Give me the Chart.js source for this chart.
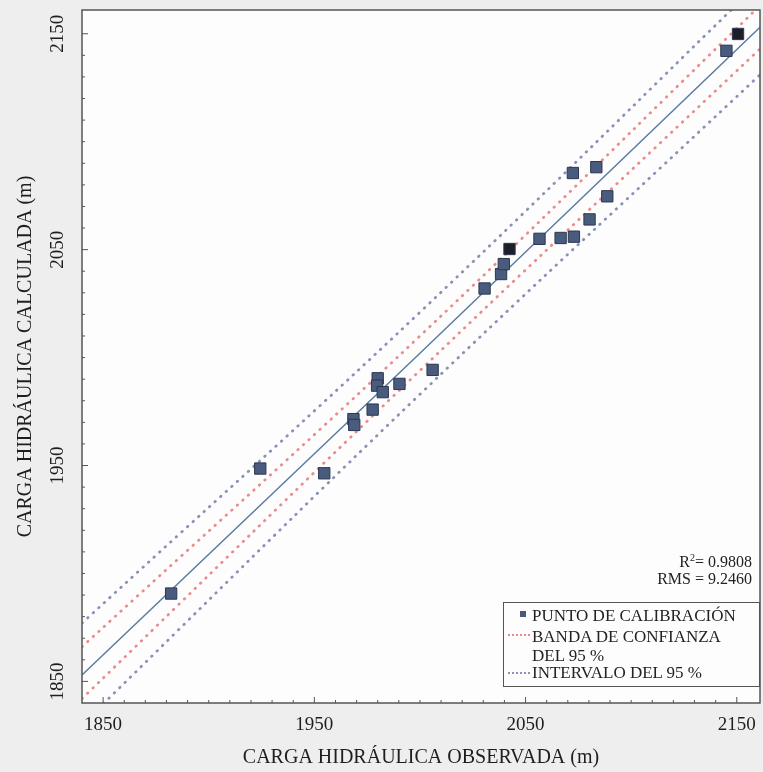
<!DOCTYPE html>
<html>
<head>
<meta charset="utf-8">
<script src="https://cdn.jsdelivr.net/npm/chart.js@4.4.1/dist/chart.umd.min.js"></script>
<style>
html, body { margin: 0; padding: 0; background: #eeeeee; }
#wrap { position: relative; width: 763px; height: 772px; }
#legend { position: absolute; left: 503px; top: 602px; width: 257px; height: 85px; border: 1px solid #555; background: #fdfdfd; box-sizing: border-box; font-family: "Liberation Serif", serif; font-size: 17px; color: #222; }
#legend .row { position: absolute; left: 28px; line-height: 17px; white-space: nowrap; }
#legend .sym { position: absolute; }
.stat { position: absolute; right: 11px; font-family: "Liberation Serif", serif; font-size: 16px; color: #222; white-space: nowrap; line-height: 18px; }
</style>
</head>
<body>
<div id="wrap">
  <canvas id="chart" width="763" height="772"></canvas>
  <div class="stat" style="top:549px">R<sup style="font-size:10px">2</sup>= 0.9808</div>
  <div class="stat" style="top:570px">RMS = 9.2460</div>
  <div id="legend">
    <div class="sym" style="left:16px; top:8px; width:6px; height:6px; background:#4a5a78;"></div>
    <div class="sym" style="left:4px; top:31px; width:22px; border-top:2px dotted #e88a8a;"></div>
    <div class="sym" style="left:4px; top:69px; width:22px; border-top:2px dotted #8c92bb;"></div>
    <div class="row" style="top:4px">PUNTO DE CALIBRACIÓN</div>
    <div class="row" style="top:25px">BANDA DE CONFIANZA</div>
    <div class="row" style="top:44px">DEL 95 %</div>
    <div class="row" style="top:61px">INTERVALO DEL 95 %</div>
  </div>
</div>
<script>
// puntos de calibracion (observada, calculada)
const obsX = [1882.2, 1924.4, 1954.7, 1968.5, 1968.9, 1977.6, 1980.0, 1979.7, 1982.4, 1990.3, 2006.0,
              2030.6, 2038.4, 2039.7, 2042.4, 2056.6, 2066.6, 2072.9, 2080.3, 2072.4, 2083.5, 2088.7,
              2145.1, 2150.6];
const calcY = [1890.7, 1948.6, 1946.4, 1971.5, 1968.8, 1975.9, 1990.4, 1987.0, 1984.0, 1987.8, 1994.3,
               2032.0, 2038.7, 2043.3, 2050.3, 2055.0, 2055.4, 2056.0, 2064.0, 2085.5, 2088.2, 2074.7,
               2142.1, 2149.9];
const darkIdx = [14, 23]; // los dos cuadros negros

// recta de ajuste y bandas
const lineX = [1840, 2000, 2161];
const fitY = [1853, 2002, 2153];
const bandHi = [1866, 2010, 2163];
const bandLo = [1842, 1994, 2143];
const predHi = [1877, 2021, 2174];
const predLo = [1830, 1983, 2131];

const xTicks = [1850, 1950, 2050, 2150];
const yTicks = [1850, 1950, 2050, 2150];
const xTitle = 'CARGA HIDRÁULICA OBSERVADA (m)';
const yTitle = 'CARGA HIDRÁULICA CALCULADA (m)';

function toXY(xs, ys) {
    return xs.map((x, i) => ({ x: x, y: ys[i] }));
}

const serif = 'Liberation Serif';

// fondo blanco, marco y marcas menores hacia adentro
const framePlugin = {
    id: 'frame',
    beforeDatasetsDraw(chart) {
        const a = chart.chartArea;
        const c = chart.ctx;
        c.save();
        c.fillStyle = '#fdfdfd';
        c.fillRect(a.left, a.top, a.right - a.left, a.bottom - a.top);
        c.restore();
    },
    afterDatasetsDraw(chart) {
        const a = chart.chartArea;
        const c = chart.ctx;
        const xs = chart.scales.x, ys = chart.scales.y;
        c.save();
        c.strokeStyle = '#555';
        c.lineWidth = 1.5;
        c.strokeRect(a.left, a.top, a.right - a.left, a.bottom - a.top);
        c.lineWidth = 1;
        c.beginPath();
        for (let v = 1850; v <= 2150; v += 10) {
            const len = (v - 1850) % 100 === 0 ? 6 : 3;
            const px = xs.getPixelForValue(v);
            c.moveTo(px, a.bottom);
            c.lineTo(px, a.bottom - len);
            const py = ys.getPixelForValue(v);
            c.moveTo(a.left, py);
            c.lineTo(a.left + len, py);
        }
        c.stroke();
        c.restore();
    }
};

const dotted = { borderWidth: 2.8, borderDash: [0.5, 7], borderCapStyle: 'round', pointRadius: 0, fill: false, showLine: true, tension: 0.4 };

const ctx = document.getElementById('chart').getContext('2d');
const chart = new Chart(ctx, {
    type: 'scatter',
    data: {
        datasets: [
            {
                label: 'PUNTO DE CALIBRACIÓN',
                data: toXY(obsX, calcY),
                pointStyle: 'rect',
                pointRadius: 8,
                backgroundColor: c => darkIdx.includes(c.dataIndex) ? '#1c1f2a' : '#4a5c7e',
                borderColor: '#2c3650',
                borderWidth: 1,
                order: 0
            },
            { label: 'ajuste', data: toXY(lineX, fitY), showLine: true, borderColor: '#5a7ca2', borderWidth: 1.5, pointRadius: 0, order: 1 },
            Object.assign({ label: 'banda sup', data: toXY(lineX, bandHi), borderColor: '#eb8c8c', order: 2 }, dotted),
            Object.assign({ label: 'banda inf', data: toXY(lineX, bandLo), borderColor: '#eb8c8c', order: 2 }, dotted),
            Object.assign({ label: 'int sup', data: toXY(lineX, predHi), borderColor: '#8a90b8', order: 3 }, dotted),
            Object.assign({ label: 'int inf', data: toXY(lineX, predLo), borderColor: '#8a90b8', order: 3 }, dotted)
        ]
    },
    options: {
        responsive: false,
        animation: false,
        layout: { autoPadding: false, padding: { top: 10, right: 3, left: 0, bottom: 0 } },
        plugins: { legend: { display: false }, tooltip: { enabled: false } },
        scales: {
            x: {
                type: 'linear',
                min: 1840,
                max: 2161,
                afterBuildTicks: s => { s.ticks = xTicks.map(v => ({ value: v })); },
                afterFit: s => { s.height = 69; s.paddingLeft = 0; s.paddingRight = 0; },
                grid: { display: false, drawTicks: false },
                border: { display: false },
                ticks: { padding: 11, maxRotation: 0, font: { family: serif, size: 19 }, color: '#1e1e1e', callback: v => String(v) },
                title: { display: true, text: xTitle, color: '#1e1e1e', font: { family: serif, size: 20 }, padding: { top: 2, bottom: 2 } }
            },
            y: {
                type: 'linear',
                min: 1840,
                max: 2161,
                afterBuildTicks: s => { s.ticks = yTicks.map(v => ({ value: v })); },
                afterFit: s => { s.width = 82; s.paddingTop = 0; s.paddingBottom = 0; },
                grid: { display: false, drawTicks: false },
                border: { display: false },
                ticks: { padding: 5, minRotation: 90, maxRotation: 90, crossAlign: 'center', font: { family: serif, size: 19 }, color: '#1e1e1e', callback: v => String(v) },
                title: { display: true, text: yTitle, color: '#1e1e1e', font: { family: serif, size: 20 }, padding: { top: 14, bottom: 2 } }
            }
        }
    },
    plugins: [framePlugin]
});
</script>
</body>
</html>
